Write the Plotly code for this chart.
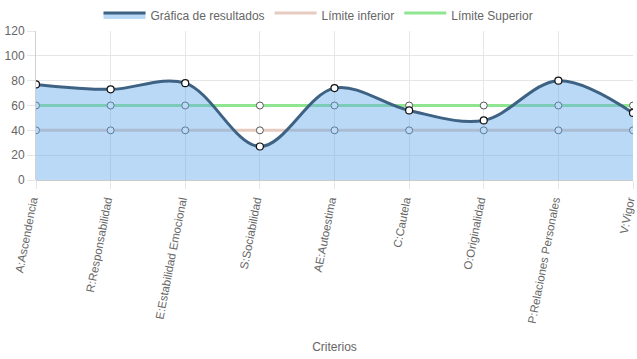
import plotly.graph_objects as go

categories = ["A:Ascendencia", "R:Responsabilidad", "E:Estabilidad Emocional",
              "S:Sociabilidad", "AE:Autoestima", "C:Cautela", "O:Originalidad",
              "P:Relaciones Personales", "V:Vigor"]
resultados = [77, 73, 78, 27, 74, 56, 48, 80, 54]
limite_inferior = [40, 40, 40, 40, 40, 40, 40, 40, 40]
limite_superior = [60, 60, 60, 60, 60, 60, 60, 60, 60]
y_ticks = [0, 20, 40, 60, 80, 100, 120]

FONT = "Liberation Sans, Arial, sans-serif"
BLUE_LINE = "#3d6283"
BLUE_FILL = "rgba(100,170,235,0.45)"
INF_COLOR = "#e6cbc0"
SUP_COLOR = "#90e690"

fig = go.Figure()

fig.add_trace(go.Scatter(
    x=categories, y=limite_superior, name="Límite Superior", showlegend=False,
    mode="lines+markers",
    line=dict(color=SUP_COLOR, width=3),
    marker=dict(size=7, color="white", line=dict(color="#555555", width=1)),
))
fig.add_trace(go.Scatter(
    x=categories, y=limite_inferior, name="Límite inferior", showlegend=False,
    mode="lines+markers",
    line=dict(color=INF_COLOR, width=3),
    marker=dict(size=7, color="white", line=dict(color="#555555", width=1)),
))
fig.add_trace(go.Scatter(
    x=categories, y=resultados, name="Gráfica de resultados", showlegend=False,
    mode="lines+markers",
    line=dict(color=BLUE_LINE, width=3, shape="spline", smoothing=1.0),
    marker=dict(size=7, color="white", line=dict(color="#111111", width=1.2)),
    fill="tozeroy", fillcolor=BLUE_FILL,
))

# legend-only entries (box style)
for name, lc, fc in [("Gráfica de resultados", BLUE_LINE, BLUE_FILL),
                     ("Límite inferior", INF_COLOR, "white"),
                     ("Límite Superior", SUP_COLOR, "white")]:
    fig.add_trace(go.Scatter(
        x=[None], y=[None], name=name, mode="lines",
        line=dict(color=lc, width=3), fill="toself", fillcolor=fc,
    ))

fig.update_layout(
    width=637, height=359,
    margin=dict(l=36, r=4, t=31, b=179),
    paper_bgcolor="white", plot_bgcolor="white",
    font=dict(family=FONT, size=12, color="#666666"),
    showlegend=True,
    legend=dict(orientation="h", x=0.5, xanchor="center", xref="container",
                y=0.958, yanchor="middle", yref="container",
                itemwidth=42,
                font=dict(size=12, color="#666666"),
                bgcolor="rgba(0,0,0,0)"),
    xaxis=dict(
        type="category", range=[0, 8], tickangle=-79, automargin=False,
        ticklabelshift=-4,
        showgrid=True, gridcolor="#e6e6e6", gridwidth=1,
        ticks="outside", ticklen=8, tickcolor="#e6e6e6",
        showline=False, zeroline=False,
        tickfont=dict(size=11.5, color="#666666"),
        title=dict(text="Criterios", font=dict(size=12, color="#666666"), standoff=18),
    ),
    yaxis=dict(
        range=[0, 120], tickvals=y_ticks, automargin=False,
        showgrid=True, gridcolor="#e6e6e6", gridwidth=1,
        ticks="outside", ticklen=8, tickcolor="#e6e6e6",
        showline=True, linecolor="#d0d0d0",
        zeroline=True, zerolinecolor="#cccccc", zerolinewidth=1,
        tickfont=dict(size=12, color="#666666"),
    ),
)

fig.write_html("out.html", config={"displayModeBar": False},
               post_script="document.body.style.margin='0';document.body.style.overflow='hidden';")
